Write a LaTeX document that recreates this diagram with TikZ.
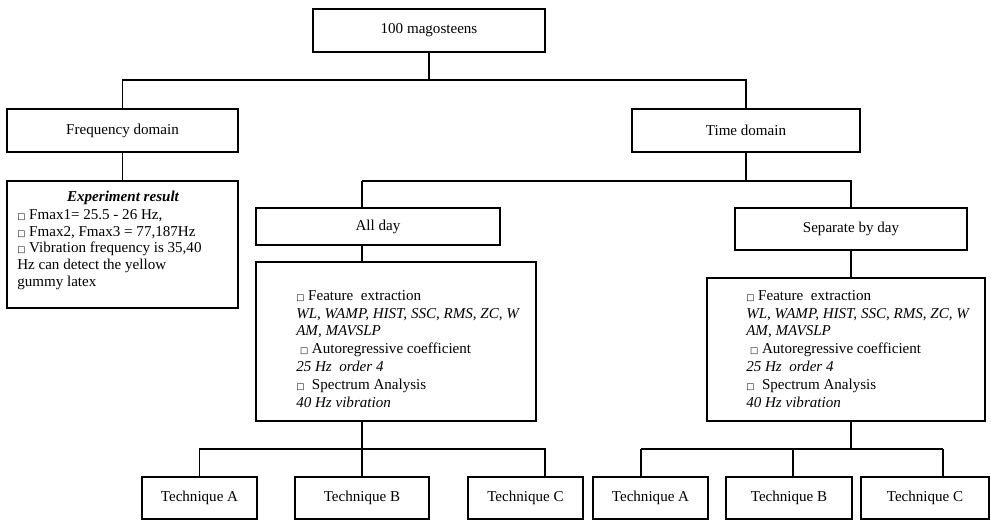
\documentclass[tikz,border=0pt]{standalone}
\usepackage{fontspec}
\setmainfont{Liberation Serif}
\newfontfamily\dejavu{DejaVu Sans}
\newcommand\bul{{\dejavu\fontsize{6.5}{6.5}\selectfont □}}
\newcommand\fsz{\fontsize{11.3}{12.6}\selectfont}
\newcommand\fszb{\fontsize{11.3}{13.4}\selectfont}
\newcommand\pbox[6]{\node[box, minimum width={(#4-#2)*0.75pt}, minimum height={(#5-#3)*0.75pt}] (#1) at ({(#2+#4)/2},{(#3+#5)/2}) {#6};}
\begin{document}
\begin{tikzpicture}[x=0.75pt,y=-0.75pt,
  box/.style={draw, line width=0.8pt, inner sep=0pt, font=\fsz},
  conn/.style={line width=0.8pt},
  txt/.style={inner sep=0pt, align=left, anchor=north west}]
\useasboundingbox (0,0) rectangle (991,521);
\pbox{top}{313}{9}{545}{52}{100 magosteens}
\pbox{freq}{7}{109}{238}{152}{Frequency domain}
\pbox{time}{632}{109}{860}{152}{Time domain}
\pbox{exp}{7}{181}{238}{308}{}
\pbox{allday}{256}{208}{500}{245}{All day}
\pbox{sep}{735}{208}{967}{250}{Separate by day}
\pbox{featL}{256}{262}{536}{421}{}
\pbox{featR}{707}{278}{985}{421}{}
\pbox{tA1}{142}{477}{257}{519}{Technique A}
\pbox{tB1}{295}{477}{429}{519}{Technique B}
\pbox{tC1}{468}{477}{583}{519}{Technique C}
\pbox{tA2}{593}{477}{708}{519}{Technique A}
\pbox{tB2}{726}{477}{852}{519}{Technique B}
\pbox{tC2}{861}{477}{989}{519}{Technique C}
% texts
\node[font=\fsz\bfseries\itshape, inner sep=0pt] (expTitle) at (123,198) {Experiment result};
\node[txt, font=\fsz] (expText) at (17,209) {\bul\ Fmax1= 25.5 - 26 Hz,\\ \bul\ Fmax2, Fmax3 = 77,187Hz\\ \bul\ Vibration frequency is 35,40\\ Hz can detect the yellow\\ gummy latex};
\node[txt, font=\fszb] (featLText) at (296,290) {\bul\ Feature\ \ extraction\\ \textit{WL, WAMP, HIST, SSC, RMS, ZC, W}\\ \textit{AM, MAVSLP}\\ \ \bul\ Autoregressive coefficient\\ \textit{25 Hz\ \ order 4}\\ \bul\ \ Spectrum Analysis\\ \textit{40 Hz vibration}};
\node[txt, font=\fszb] (featRText) at (746,290) {\bul\ Feature\ \ extraction\\ \textit{WL, WAMP, HIST, SSC, RMS, ZC, W}\\ \textit{AM, MAVSLP}\\ \ \bul\ Autoregressive coefficient\\ \textit{25 Hz\ \ order 4}\\ \bul\ \ Spectrum Analysis\\ \textit{40 Hz vibration}};
% connectors
\coordinate (j1) at (429,80);
\draw[conn] (top.south) -- (j1);
\draw[conn] (freq.north) |- (j1) -| (time.north);
\draw[conn] (freq.south) -- (exp.north);
\coordinate (j2) at (746,181);
\coordinate (cL) at (362,181);
\draw[conn] (time.south) -- (j2);
\draw[conn] (cL) -- (j2) -| (sep.north);
\draw[conn] (cL) -- (cL |- allday.north);
\draw[conn] (allday.south -| cL) -- (featL.north -| cL);
\draw[conn] (sep.south) -- (sep.south |- featR.north);
\coordinate (bL) at (362,449);
\coordinate (c1x) at (545,449);
\draw[conn] (featL.south -| bL) -- (bL);
\draw[conn] (tA1.north) |- (bL) -- (c1x) -- (c1x |- tC1.north);
\draw[conn] (bL) -- (tB1.north);
\coordinate (bR) at (851,449);
\coordinate (a2x) at (641,449);
\coordinate (b2x) at (793,449);
\coordinate (c2x) at (943,449);
\draw[conn] (featR.south -| bR) -- (bR);
\draw[conn] (a2x) -- (c2x);
\draw[conn] (a2x) -- (a2x |- tA2.north);
\draw[conn] (b2x) -- (b2x |- tB2.north);
\draw[conn] (c2x) -- (c2x |- tC2.north);
\end{tikzpicture}
\end{document}
